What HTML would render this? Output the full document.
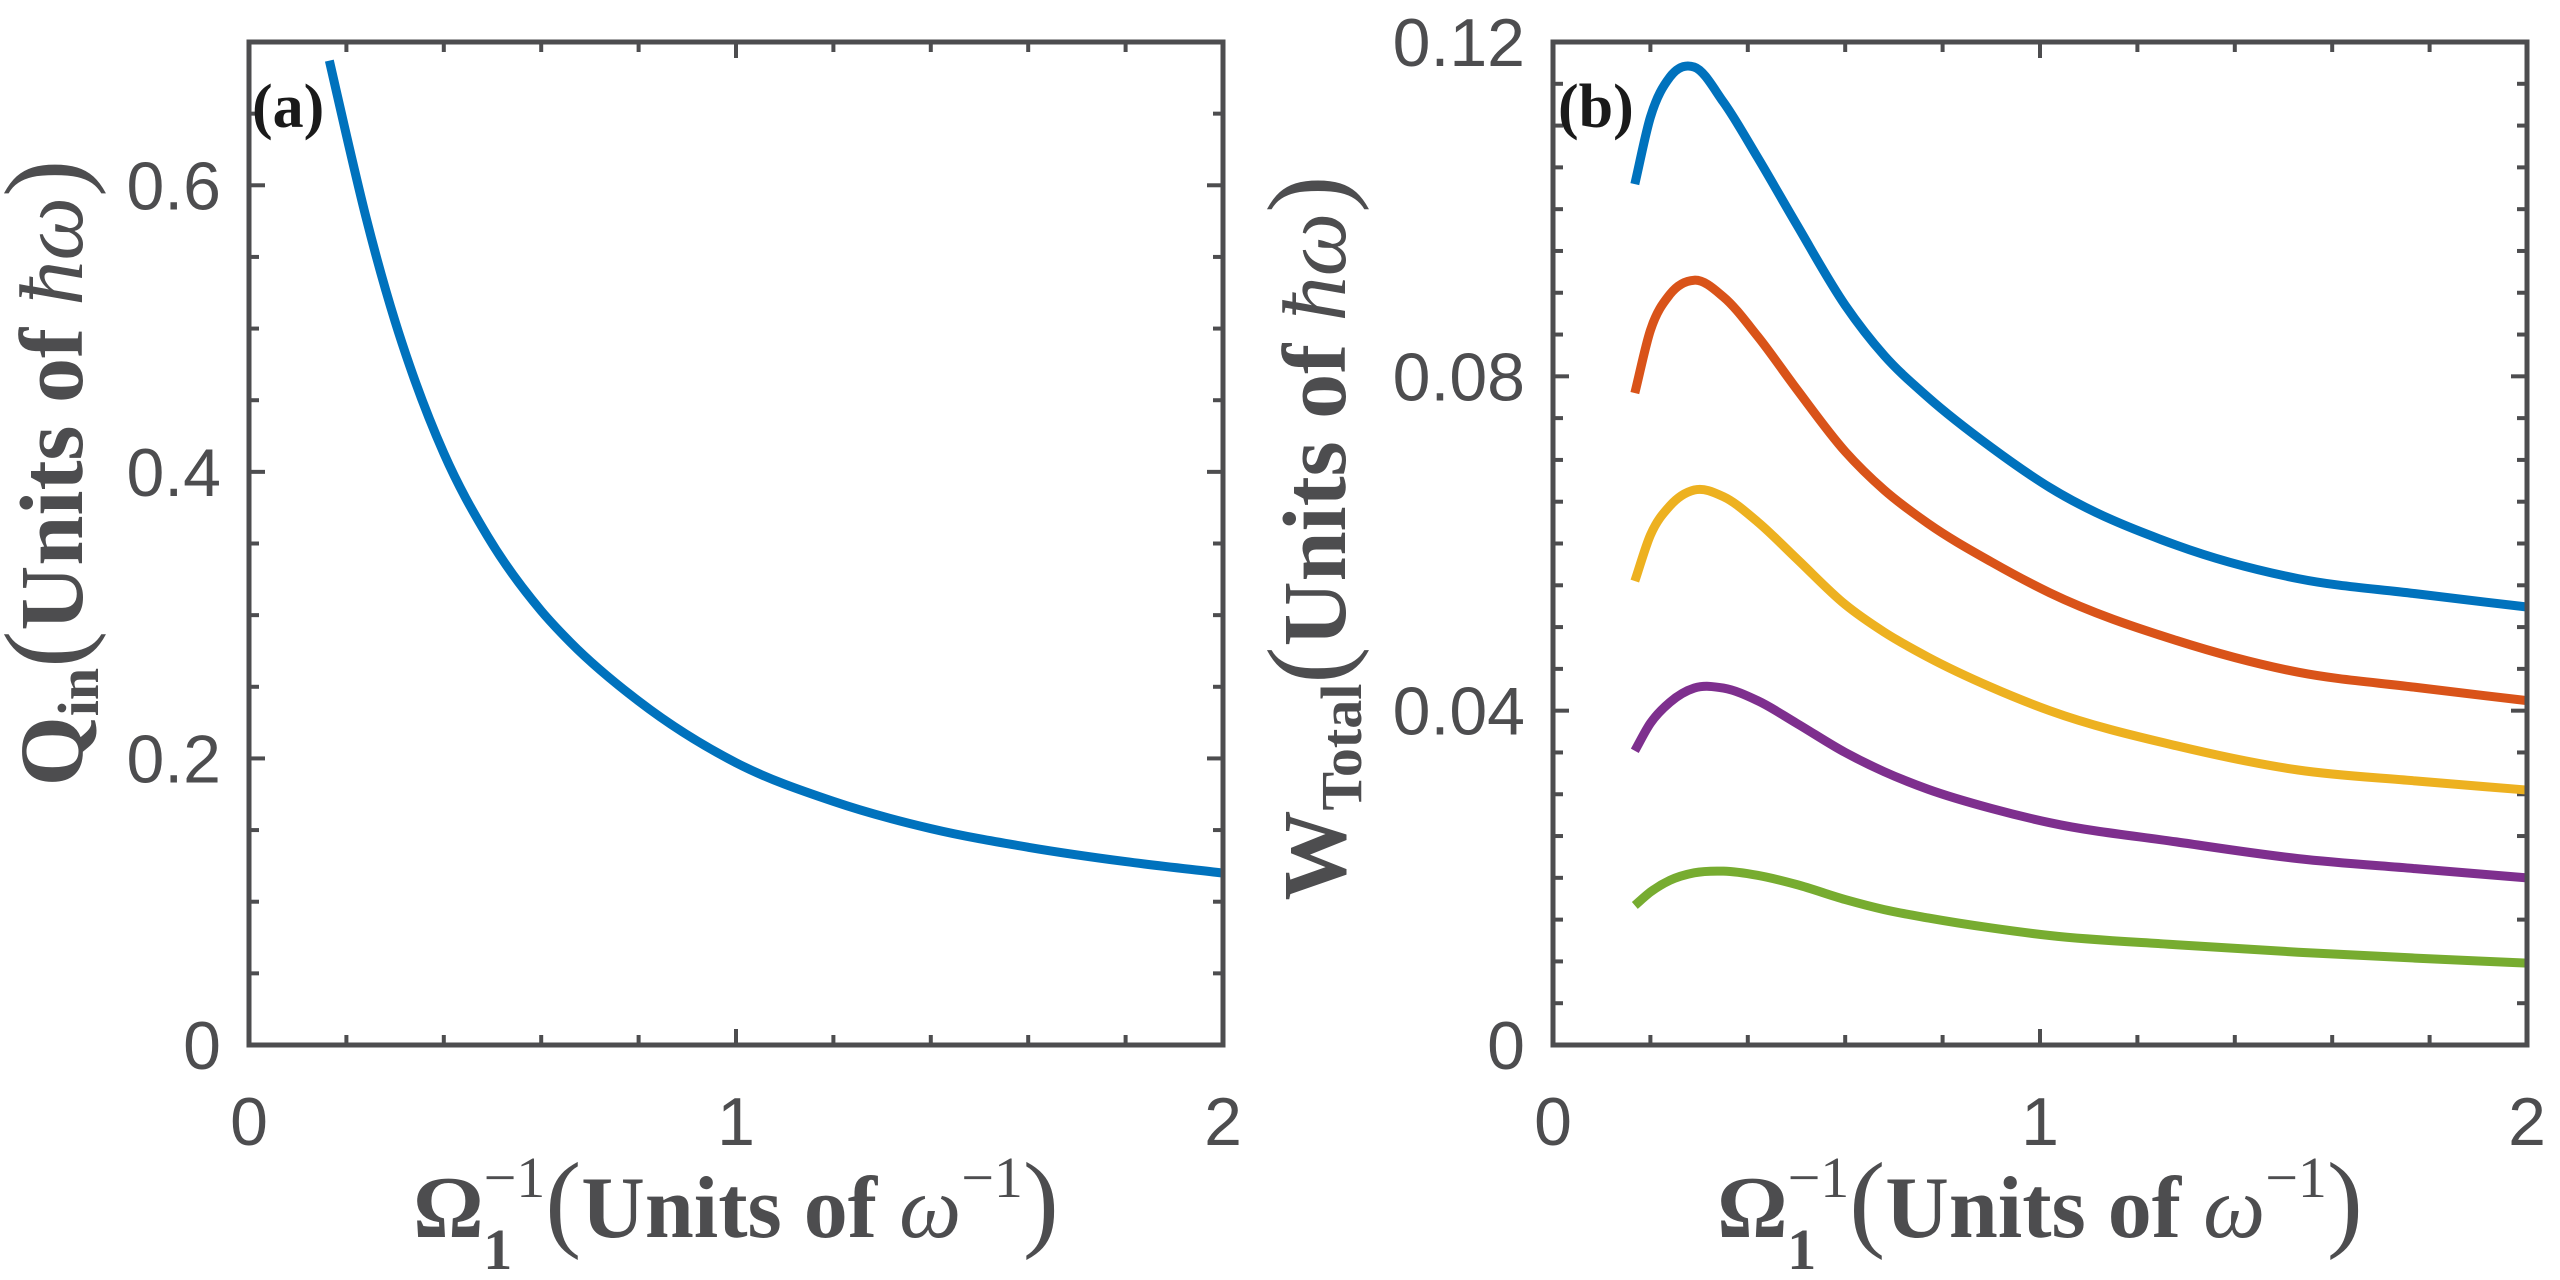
<!DOCTYPE html>
<html><head><meta charset="utf-8"><style>
html,body{margin:0;padding:0;background:#fff;}
svg{display:block;}
.tick{font-family:"Liberation Sans",sans-serif;font-size:68px;fill:#4d4d4f;}
.lab{font-family:"Liberation Serif",serif;fill:#4d4d4f;}
</style></head><body>
<svg id="chart" width="2560" height="1280" viewBox="0 0 2560 1280" xmlns="http://www.w3.org/2000/svg">
<g id="panelA"></g>
<g id="panelB"></g>
</svg>
<script>
// Panel (a) data
const xA = [0.165,0.2,0.24,0.3,0.33,0.4,0.49,0.6,0.66,0.8,1.0,1.2,1.4,1.6,1.8,2.0];
const qIn = [0.687,0.635,0.578,0.505,0.474,0.413,0.355,0.303,0.281,0.240,0.197,0.170,0.151,0.138,0.128,0.12];
const yTicksA = [0,0.2,0.4,0.6];
const yTickLabelsA = ["0","0.2","0.4","0.6"];
// Panel (b) data
const xB = [0.168,0.2,0.24,0.29,0.35,0.42,0.5,0.6,0.68,0.77,0.9,1.02,1.28,1.53,1.77,2.0];
const wBlue = [0.103,0.111,0.1158,0.117,0.1128,0.1062,0.0982,0.0885,0.0825,0.0775,0.0715,0.0667,0.0598,0.0558,0.054,0.0524];
const wOrange = [0.078,0.0855,0.0898,0.0915,0.0895,0.0848,0.0785,0.0710,0.0664,0.0624,0.0578,0.0541,0.0484,0.0446,0.0428,0.0412];
const wYellow = [0.0555,0.061,0.0645,0.0664,0.0656,0.0626,0.0582,0.0527,0.0494,0.0464,0.0428,0.0400,0.0358,0.0329,0.0316,0.0305];
const wPurple = [0.0352,0.0385,0.041,0.0427,0.0427,0.0412,0.0385,0.0350,0.0327,0.0306,0.0283,0.0266,0.0243,0.0223,0.0211,0.020];
const wGreen = [0.0167,0.0183,0.0197,0.0206,0.0208,0.0203,0.0192,0.0174,0.0162,0.0152,0.0140,0.0131,0.012,0.0111,0.0104,0.0098];
const yTicksB = [0,0.04,0.08,0.12];
const yTickLabelsB = ["0","0.04","0.08","0.12"];
const xTicks = [0,1,2];
const xTickLabels = ["0","1","2"];

const NS = "http://www.w3.org/2000/svg";
function mk(tag, attrs, parent){
  const e = document.createElementNS(NS, tag);
  for (const k in attrs) e.setAttribute(k, attrs[k]);
  if (parent) parent.appendChild(e);
  return e;
}
function pathFrom(pts){
  const n = pts.length;
  const m = [];
  for (let i = 0; i < n; i++){
    if (i === 0) m.push((pts[1][1]-pts[0][1])/(pts[1][0]-pts[0][0]));
    else if (i === n-1) m.push((pts[n-1][1]-pts[n-2][1])/(pts[n-1][0]-pts[n-2][0]));
    else {
      const h0 = pts[i][0]-pts[i-1][0], h1 = pts[i+1][0]-pts[i][0];
      const s0 = (pts[i][1]-pts[i-1][1])/h0, s1 = (pts[i+1][1]-pts[i][1])/h1;
      m.push((s0*h1 + s1*h0)/(h0+h1));
    }
  }
  let d = "M" + pts[0][0].toFixed(2) + "," + pts[0][1].toFixed(2);
  for (let i = 0; i < n-1; i++){
    const h = pts[i+1][0]-pts[i][0];
    d += " C" + (pts[i][0]+h/3).toFixed(2) + "," + (pts[i][1]+m[i]*h/3).toFixed(2) + " " +
         (pts[i+1][0]-h/3).toFixed(2) + "," + (pts[i+1][1]-m[i+1]*h/3).toFixed(2) + " " +
         pts[i+1][0].toFixed(2) + "," + pts[i+1][1].toFixed(2);
  }
  return d;
}

function drawPanel(g, cfg){
  const L = cfg.left, R = cfg.left + 974, T = 42, B = 1045;
  const sx = v => L + (v - 0) / 2 * (R - L);
  const sy = v => B - v / cfg.ymax * (B - T);
  const ax = mk("g", {}, g);
  
  
  for (let v = 0; v <= 2.0001; v += 0.2){
    const x = sx(v), len = (Math.abs(v - Math.round(v)) < 1e-6) ? 16 : 10;
    mk("line", {x1:x, y1:B, x2:x, y2:B-len, stroke:"#4d4d4f", "stroke-width":4}, ax);
    mk("line", {x1:x, y1:T, x2:x, y2:T+len, stroke:"#4d4d4f", "stroke-width":4}, ax);
  }
  for (let v = 0; v <= cfg.ymax + 1e-9; v += cfg.minor){
    const y = sy(v);
    const major = cfg.yt.some(t => Math.abs(t - v) < 1e-9);
    const len = major ? 16 : 10;
    mk("line", {x1:L, y1:y, x2:L+len, y2:y, stroke:"#4d4d4f", "stroke-width":4}, ax);
    mk("line", {x1:R, y1:y, x2:R-len, y2:y, stroke:"#4d4d4f", "stroke-width":4}, ax);
  }
  cfg.series.forEach(s => {
    const pts = cfg.xs.map((xv, i) => [sx(xv), sy(s.vals[i])]);
    const p = mk("path", {d: pathFrom(pts), fill:"none", stroke:s.color, "stroke-width":9, "stroke-linejoin":"round"}, g);
    
    
  });
  const fr = mk("rect", {x:L, y:T, width:R-L, height:B-T, fill:"none", stroke:"#4d4d4f", "stroke-width":5}, g);
  
  
  cfg.yt.forEach((v, i) => {
    const t = mk("text", {x:L-28, y:sy(v)+24, "text-anchor":"end", class:"tick"}, g);
    t.textContent = cfg.ytl[i];
    
    
  });
  xTicks.forEach((v, i) => {
    const t = mk("text", {x:sx(v), y:1145, "text-anchor":"middle", class:"tick"}, g);
    t.textContent = xTickLabels[i];
    
    
  });
}

const gA = document.getElementById("panelA");
const gB = document.getElementById("panelB");
drawPanel(gA, {id:"panel-a", left:249, ymax:0.7, minor:0.05, yt:yTicksA, ytl:yTickLabelsA, xs:xA,
  series:[{name:"q-in-line", color:"#0072BD", vals:qIn}]});
drawPanel(gB, {id:"panel-b", left:1553, ymax:0.12, minor:0.005, yt:yTicksB, ytl:yTickLabelsB, xs:xB,
  series:[{name:"w-total-blue-line", color:"#0072BD", vals:wBlue},
          {name:"w-total-orange-line", color:"#D95319", vals:wOrange},
          {name:"w-total-yellow-line", color:"#EDB120", vals:wYellow},
          {name:"w-total-purple-line", color:"#7E2F8E", vals:wPurple},
          {name:"w-total-green-line", color:"#77AC30", vals:wGreen}]});
</script>
<svg style="position:absolute;left:0;top:0" width="2560" height="1280" viewBox="0 0 2560 1280" xmlns="http://www.w3.org/2000/svg">
  <text x="252" y="127" font-family="Liberation Serif,serif" font-weight="bold" font-size="62" fill="#1a1a1a">(a)</text>
  <text x="1558" y="127" font-family="Liberation Serif,serif" font-weight="bold" font-size="62" fill="#1a1a1a">(b)</text>

  <text class="lab" transform="translate(82,473) rotate(-90)" text-anchor="middle"><tspan font-weight="bold" font-size="90">Q</tspan><tspan font-weight="bold" font-size="58" dy="16">in</tspan><tspan font-size="112" dy="-16">(</tspan><tspan font-weight="bold" font-size="90">Units of </tspan><tspan font-style="italic" font-size="90">ħω</tspan><tspan font-size="112">)</tspan></text>

  <text class="lab" transform="translate(1345,538) rotate(-90)" text-anchor="middle"><tspan font-weight="bold" font-size="90">W</tspan><tspan font-weight="bold" font-size="58" dy="16">Total</tspan><tspan font-size="112" dy="-16">(</tspan><tspan font-weight="bold" font-size="90">Units of </tspan><tspan font-style="italic" font-size="90">ħω</tspan><tspan font-size="112">)</tspan></text>

  <text class="lab" x="736" y="1237" text-anchor="middle"><tspan font-weight="bold" font-size="88">Ω</tspan><tspan font-size="58" dy="-40">−1</tspan><tspan font-weight="bold" font-size="58" dx="-62" dy="72">1</tspan><tspan font-size="108" dx="33" dy="-32">(</tspan><tspan font-weight="bold" font-size="88">Units of </tspan><tspan font-style="italic" font-size="88">ω</tspan><tspan font-size="58" dy="-40">−1</tspan><tspan font-size="108" dy="40">)</tspan></text>

  <text class="lab" x="2040" y="1237" text-anchor="middle"><tspan font-weight="bold" font-size="88">Ω</tspan><tspan font-size="58" dy="-40">−1</tspan><tspan font-weight="bold" font-size="58" dx="-62" dy="72">1</tspan><tspan font-size="108" dx="33" dy="-32">(</tspan><tspan font-weight="bold" font-size="88">Units of </tspan><tspan font-style="italic" font-size="88">ω</tspan><tspan font-size="58" dy="-40">−1</tspan><tspan font-size="108" dy="40">)</tspan></text>
</svg>
</body></html>
